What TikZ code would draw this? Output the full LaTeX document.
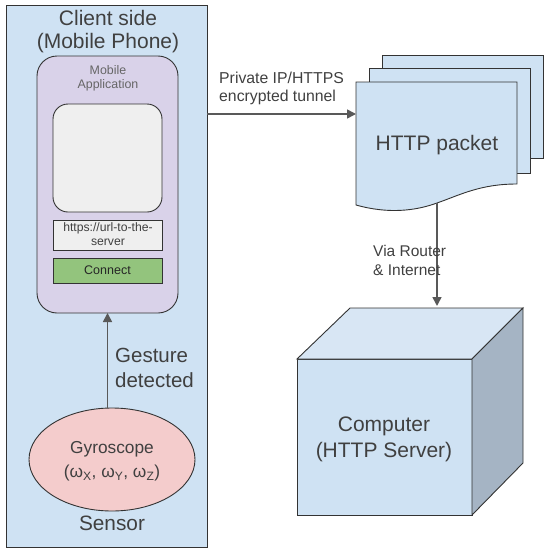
\documentclass[tikz,border=0pt]{standalone}
\usepackage{fontspec}
\setmainfont{Liberation Sans}
\usetikzlibrary{arrows.meta,shapes.geometric}
\definecolor{bluef}{HTML}{CFE2F3}
\definecolor{bluetop}{HTML}{D8E6F4}
\definecolor{sidef}{HTML}{A5B4C4}
\definecolor{purplef}{HTML}{D9D2E9}
\definecolor{grayf}{HTML}{EFEFEF}
\definecolor{greenf}{HTML}{93C47D}
\definecolor{pinkf}{HTML}{F4CCCC}
\definecolor{txt}{HTML}{404040}
\definecolor{edge}{HTML}{333333}
\definecolor{arrowc}{HTML}{595959}
\newcommand{\fs}[1]{\fontsize{#1}{#1}\selectfont}
\tikzset{
  box/.style={draw=edge, line width=0.9pt, inner sep=0pt, outer sep=0pt},
  lbl/.style={text=txt, inner sep=0pt, align=center},
  lbll/.style={text=txt, inner sep=0pt, align=left, anchor=west},
  arr/.style={draw=arrowc, line width=1.6pt, -{Triangle[length=9pt,width=9pt]}},
}
\begin{document}
\begin{tikzpicture}[x=1pt,y=-1pt]
\useasboundingbox (0,0) rectangle (550,554);
% client side
\node[box, fill=bluef, minimum width=201pt, minimum height=542pt] (client) at (106.5,276) {};
\node[lbl, font=\fs{21}] (ct1) at (108,18) {Client side};
\node[lbl, font=\fs{21}] (ct2) at (108,43) {(Mobile Phone)};
% app
\node[box, fill=purplef, rounded corners=20pt, minimum width=141pt, minimum height=257pt] (app) at (107.5,184.5) {};
\node[lbl, font=\fs{12.4}, text=txt!80] (mt1) at (108,70.5) {Mobile};
\node[lbl, font=\fs{12.4}, text=txt!80] (mt2) at (108,85.5) {Application};
\node[box, fill=grayf, rounded corners=15pt, minimum width=109pt, minimum height=108pt] (screen) at (107.5,158) {};
\node[box, fill=grayf, minimum width=109pt, minimum height=30pt] (url) at (107.5,235) {};
\node[lbl, font=\fs{12.2}] (u1) at (108,228) {https://url-to-the-};
\node[lbl, font=\fs{12.2}] (u2) at (108,242) {server};
\node[box, fill=greenf, minimum width=109pt, minimum height=25pt, font=\fs{12.5}, text=black!85] (connect) at (107.5,270.5) {Connect};
% gyro
\node[box, ellipse, fill=pinkf, minimum width=166pt, minimum height=103pt] (gyro) at (112,459.5) {};
\node[lbl, font=\fs{17.3}] (g1) at (112,449) {Gyroscope};
\node[lbl, font=\fs{17.3}] (g2) at (112,473) {(ω\textsubscript{X}, ω\textsubscript{Y}, ω\textsubscript{Z})};
\node[lbl, font=\fs{20.8}] (sensor) at (112,523) {Sensor};
\draw[arr] (app.south |- gyro.north) -- (app.south);
\node[lbll, font=\fs{20.5}] (ge1) at (115,355) {Gesture};
\node[lbll, font=\fs{20.5}] (ge2) at (115,380) {detected};
% packets
\draw[box, fill=bluef] (382,55) rectangle (543,158);
\draw[box, fill=bluef] (369,68) rectangle (530,173);
\draw[box, fill=bluef] (356,82) -- (517,82) -- (517,184) .. controls (480,184) and (460,195) .. (437,203) .. controls (415,211) and (388,214) .. (356,205) -- cycle;
\coordinate (pkin) at (356,114);
\coordinate (pkout) at (437,203);
\node[lbl, font=\fs{21}] (pkt) at (437,145) {HTTP packet};
\draw[arr] (client.east |- pkin) -- (pkin);
\node[lbll, font=\fs{15.8}] (p1) at (219,78) {Private IP/HTTPS};
\node[lbll, font=\fs{15.8}] (p2) at (219,97) {encrypted tunnel};
% computer
\node[box, fill=bluef, minimum width=175pt, minimum height=156pt] (comp) at (384.5,437) {};
\draw[box, fill=bluetop] (comp.north west) -- (350,308) -- (523,308) -- (comp.north east) -- cycle;
\draw[box, fill=sidef] (comp.north east) -- (523,308) -- (523,463) -- (comp.south east) -- cycle;
\coordinate (ctop) at (437,306);
\draw[arr] (pkout) -- (ctop);
\node[lbll, font=\fs{15.5}] (v1) at (373,251) {Via Router};
\node[lbll, font=\fs{15.5}] (v2) at (373,270) {\& Internet};
\node[lbl, font=\fs{21}] (c1) at (384,426) {Computer};
\node[lbl, font=\fs{21}] (c2) at (384,452) {(HTTP Server)};
\end{tikzpicture}
\end{document}
